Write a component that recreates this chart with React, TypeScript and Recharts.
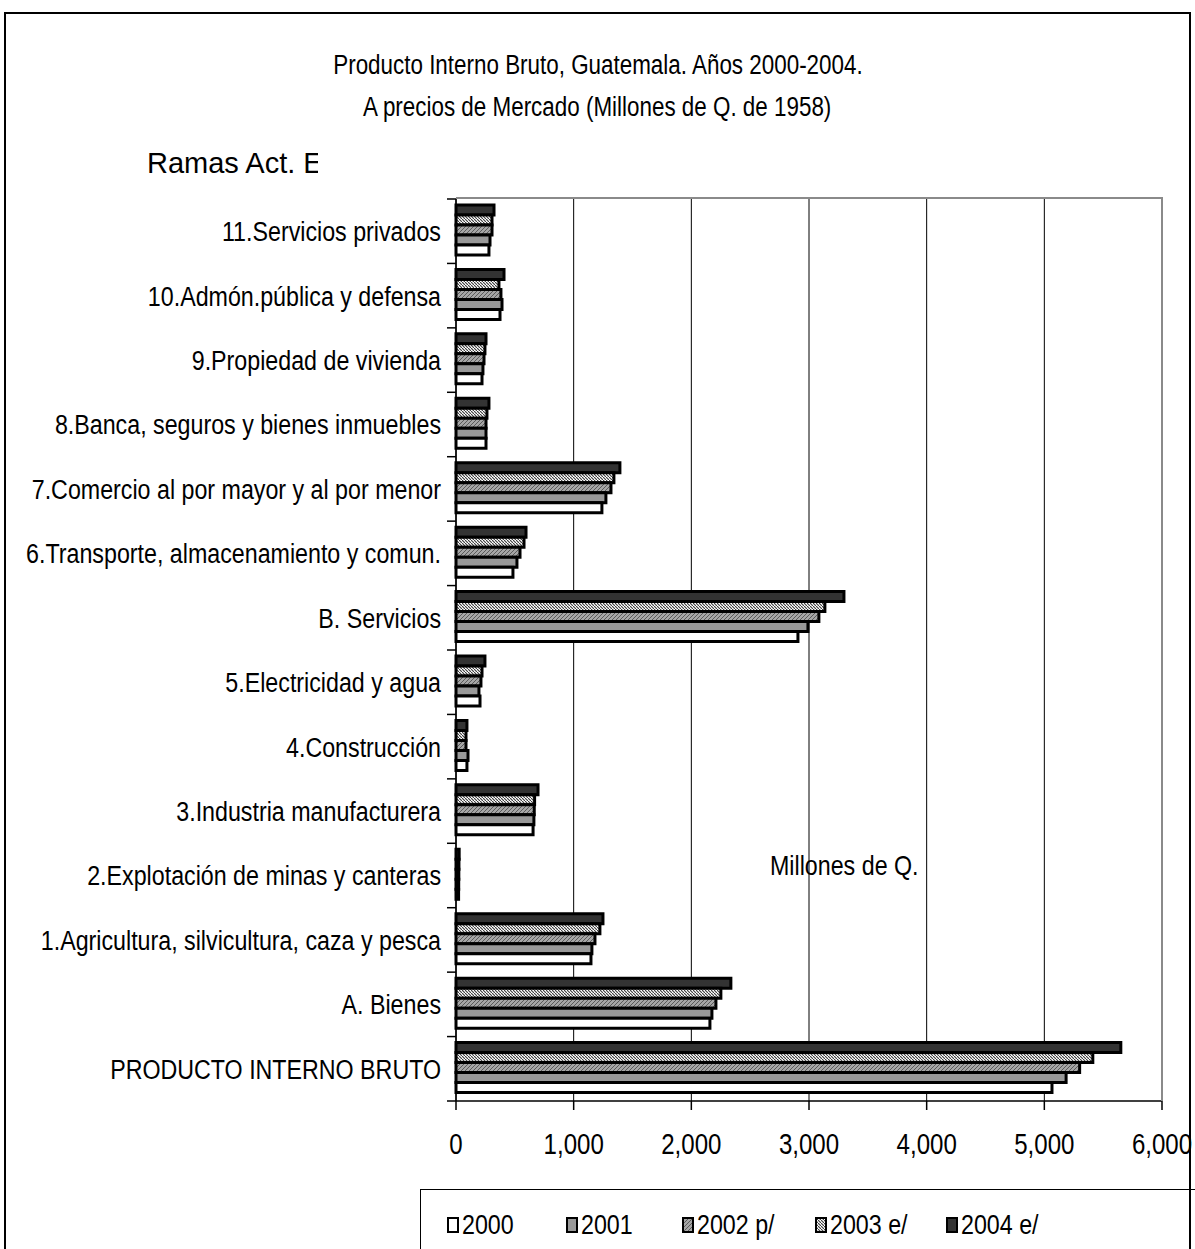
import { BarChart, Bar, XAxis, YAxis, CartesianGrid } from 'recharts'

const categories = [
  'PRODUCTO INTERNO BRUTO',
  'A. Bienes',
  '1.Agricultura, silvicultura, caza y pesca',
  '2.Explotación de minas y canteras',
  '3.Industria manufacturera',
  '4.Construcción',
  '5.Electricidad y agua',
  'B. Servicios',
  '6.Transporte, almacenamiento y comun.',
  '7.Comercio al por mayor y al por menor',
  '8.Banca, seguros y bienes inmuebles',
  '9.Propiedad de vivienda',
  '10.Admón.pública y defensa',
  '11.Servicios privados',
]

const y2000 = [5065, 2158, 1147, 22, 655, 93, 204, 2906, 484, 1240, 255, 221, 374, 280]
const y2001 = [5185, 2175, 1155, 23, 662, 102, 195, 2991, 518, 1274, 255, 229, 391, 289]
const y2002 = [5300, 2209, 1181, 24, 665, 85, 212, 3084, 544, 1317, 255, 238, 382, 306]
const y2003 = [5412, 2251, 1223, 25, 668, 85, 221, 3135, 578, 1342, 263, 246, 365, 306]
const y2004 = [5650, 2336, 1249, 27, 697, 93, 246, 3297, 595, 1393, 280, 255, 408, 323]

const xTicks = [0, 1000, 2000, 3000, 4000, 5000, 6000]

const seriesKeys = ['y2000', 'y2001', 'y2002', 'y2003', 'y2004']
const seriesLabels = ['2000', '2001', '2002 p/', '2003 e/', '2004 e/']
const seriesFills = ['#ffffff', '#999999', 'url(#pat2002)', 'url(#pat2003)', '#333333']

const data = categories.map((name, i) => ({
  name,
  y2000: y2000[i],
  y2001: y2001[i],
  y2002: y2002[i],
  y2003: y2003[i],
  y2004: y2004[i],
}))

// no narrow face installed: squeeze Liberation Sans horizontally instead
const FONT = "'Liberation Sans', Arial, sans-serif"
const SQUEEZE = 0.83

const PLOT_LEFT = 456
const PLOT_TOP = 199
const PLOT_RIGHT = 1162
const PLOT_BOTTOM = 1101
const BAND = (PLOT_BOTTOM - PLOT_TOP) / categories.length

const legendLeft = [447, 566, 682, 815, 946]

function CategoryTick(props: any) {
  const { x, y, payload, index } = props
  const ax = x + 6
  return (
    <g>
      <text
        transform={`translate(${x},${y}) scale(${SQUEEZE},1)`}
        dy="0.355em"
        textAnchor="end"
        fontFamily={FONT}
        fontSize={28}
        fill="#000"
      >
        {payload.value}
      </text>
      <line x1={ax} x2={ax + 9} y1={y + BAND / 2} y2={y + BAND / 2} stroke="#000" strokeWidth={1.5} />
      {index === categories.length - 1 && (
        <line x1={ax} x2={ax + 9} y1={y - BAND / 2} y2={y - BAND / 2} stroke="#000" strokeWidth={1.5} />
      )}
    </g>
  )
}

function ValueTick(props: any) {
  const { x, y, payload } = props
  return (
    <text
      transform={`translate(${x},${y}) scale(${SQUEEZE},1)`}
      dy="0.71em"
      textAnchor="middle"
      fontFamily={FONT}
      fontSize={29}
      fill="#000"
    >
      {Number(payload.value).toLocaleString('en-US')}
    </text>
  )
}

const squeezed = (origin: string) => ({
  display: 'inline-block',
  transform: `scaleX(${SQUEEZE})`,
  transformOrigin: origin,
})

export default function App() {
  return (
    <div style={{ position: 'absolute', left: 0, top: 0, width: 1195, height: 1249, overflow: 'hidden', background: '#fff' }}>
      <svg width={0} height={0} style={{ position: 'absolute' }}>
        <defs>
          <pattern id="pat2002" patternUnits="userSpaceOnUse" width={4} height={4}>
            <rect width={4} height={4} fill="#a6a6a6" />
            <path d="M-1,1 L1,-1 M0,4 L4,0 M3,5 L5,3" stroke="#5a5a5a" strokeWidth={1} />
          </pattern>
          <pattern id="pat2003" patternUnits="userSpaceOnUse" width={3} height={3}>
            <rect width={3} height={3} fill="#ffffff" />
            <path d="M-1,-1 L4,4" stroke="#3a3a3a" strokeWidth={1.1} />
          </pattern>
        </defs>
      </svg>

      {/* outer chart frame */}
      <div style={{ position: 'absolute', left: 4, top: 12, width: 1187, height: 1300, border: '2px solid #000', boxSizing: 'border-box' }} />

      <div style={{ position: 'absolute', left: 0, top: 44, width: 1195, textAlign: 'center', fontFamily: FONT, fontSize: 27, lineHeight: '42px', color: '#000' }}>
        <div><span style={squeezed('center')}>Producto Interno Bruto, Guatemala. Años 2000-2004.</span></div>
        <div><span style={squeezed('center')}>A precios de Mercado (Millones de Q. de 1958)</span></div>
      </div>

      <div style={{ position: 'absolute', left: 147, top: 146, width: 171, overflow: 'hidden', whiteSpace: 'nowrap', fontFamily: FONT, fontSize: 29, lineHeight: '34px' }}>
        Ramas Act. E
      </div>

      <div style={{ position: 'absolute', left: 0, top: 0 }}>
        <BarChart
          width={1195}
          height={1249}
          data={data}
          layout="vertical"
          margin={{ top: PLOT_TOP, right: 1195 - PLOT_RIGHT, bottom: 88, left: 0 }}
          barCategoryGap={6}
          barGap={0}
        >
          <CartesianGrid horizontal={false} stroke="#000" strokeWidth={1} />
          <XAxis
            type="number"
            domain={[0, 6000]}
            ticks={xTicks}
            height={60}
            interval={0}
            tickSize={9}
            tickMargin={23}
            axisLine={{ stroke: '#000', strokeWidth: 1.5 }}
            tickLine={{ stroke: '#000', strokeWidth: 1.5 }}
            tick={<ValueTick />}
          />
          <YAxis
            type="category"
            dataKey="name"
            reversed
            width={PLOT_LEFT}
            interval={0}
            tickSize={9}
            tickMargin={6}
            tickLine={false}
            axisLine={{ stroke: '#000', strokeWidth: 1.5 }}
            tick={<CategoryTick />}
          />
          {[4, 3, 2, 1, 0].map((i) => (
            <Bar
              key={seriesKeys[i]}
              dataKey={seriesKeys[i]}
              name={seriesLabels[i]}
              fill={seriesFills[i]}
              stroke="#000"
              strokeWidth={3}
              isAnimationActive={false}
            />
          ))}
        </BarChart>
      </div>

      {/* plot area border (top / right) */}
      <div style={{ position: 'absolute', left: PLOT_LEFT, top: PLOT_TOP - 2, width: PLOT_RIGHT - PLOT_LEFT + 1, height: PLOT_BOTTOM - PLOT_TOP + 2, borderTop: '2px solid #8a8a8a', borderRight: '2px solid #8a8a8a', boxSizing: 'border-box', pointerEvents: 'none' }} />

      <div style={{ position: 'absolute', left: 770, top: 850, fontFamily: FONT, fontSize: 28, lineHeight: '32px', whiteSpace: 'nowrap' }}>
        <span style={squeezed('left center')}>Millones de Q.</span>
      </div>

      {/* legend */}
      <div style={{ position: 'absolute', left: 420, top: 1189, width: 820, height: 100, border: '1.5px solid #000', boxSizing: 'border-box' }} />
      {seriesLabels.map((label, i) => (
        <div key={label} style={{ position: 'absolute', left: legendLeft[i], top: 1208, height: 34, display: 'flex', alignItems: 'center', whiteSpace: 'nowrap' }}>
          <svg width={12} height={16} style={{ marginRight: 3 }}>
            <rect x={1} y={1} width={10} height={14} fill={seriesFills[i]} stroke="#000" strokeWidth={2} />
          </svg>
          <span style={{ fontFamily: FONT, fontSize: 28, lineHeight: '34px', ...squeezed('left center') }}>{label}</span>
        </div>
      ))}
    </div>
  )
}
